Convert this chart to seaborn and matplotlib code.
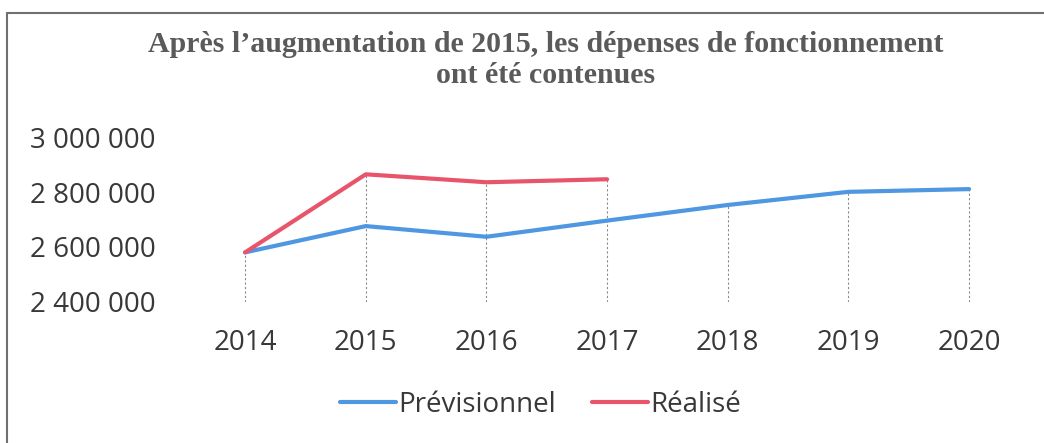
import numpy as np
import pandas as pd
import seaborn as sns
import matplotlib.pyplot as plt
from matplotlib.lines import Line2D

# data
years = ['2014', '2015', '2016', '2017', '2018', '2019', '2020']
previsionnel = [2580000, 2676000, 2637000, 2696000, 2753000, 2801000, 2811000]
realise = [2580000, 2865000, 2836000, 2847000, np.nan, np.nan, np.nan]
series_names = ['Prévisionnel', 'Réalisé']
title = "Après l\u2019augmentation de 2015, les dépenses de fonctionnement\nont été contenues"

sns.set_theme(style='white')
plt.rcParams['font.family'] = ['Open Sans', 'DejaVu Sans']

df = pd.DataFrame({'annee': years * 2,
                   'valeur': previsionnel + realise,
                   'serie': [series_names[0]] * len(years) + [series_names[1]] * len(years)})
df['pos'] = list(range(len(years))) * 2

fig = plt.figure(figsize=(10.44, 4.43), dpi=100)
ax = fig.add_axes([0.177, 0.319, 0.809, 0.371])

# drop lines from the highest point of each year
tops = np.nanmax(np.array([previsionnel, realise], dtype=float), axis=0)
ax.vlines(range(len(years)), 2400000, tops, colors='#8a8a8a', linewidth=0.8,
          linestyles=(0, (2, 2)), zorder=1)

sns.lineplot(data=df.dropna(), x='pos', y='valeur', hue='serie', hue_order=series_names,
             palette=['#4f97e0', '#e8556a'], linewidth=3, ax=ax, legend=False, zorder=2)

# axis
ax.set_xlim(-0.5, len(years) - 0.5)
ax.set_ylim(2400000, 3000000)
ax.set_xticks(range(len(years)))
ax.set_xticklabels(years)
yt = [2400000, 2600000, 2800000, 3000000]
ax.set_yticks(yt)
ax.set_yticklabels(['{:,}'.format(v).replace(',', ' ') for v in yt])
ax.tick_params(axis='both', length=0, labelsize=20, labelcolor='#383838')
ax.tick_params(axis='y', pad=21)
ax.tick_params(axis='x', pad=20)
ax.set_xlabel('')
ax.set_ylabel('')
for s in ax.spines.values():
    s.set_visible(False)

# title
fig.text(0.523, 0.93, title, ha='center', va='top', fontsize=21.5, fontweight='bold',
         family=['Liberation Serif', 'DejaVu Serif'], color='#5a5a5a', linespacing=1.2)

# legend
proxies = [Line2D([0, 1], [0, 1], color='#4f97e0', linewidth=3),
           Line2D([0, 1], [0, 1], color='#e8556a', linewidth=3)]
fig.legend(proxies, series_names, loc='center', bbox_to_anchor=(0.518, 0.086), ncol=2,
           frameon=False, fontsize=20, handlelength=2.0, handletextpad=0.1,
           columnspacing=1.3, labelcolor='#383838')

# chart frame (top and left edges)
fig.add_artist(Line2D([7 / 1044, 1.0], [1 - 13 / 443, 1 - 13 / 443], color='#707070', linewidth=1.5))
fig.add_artist(Line2D([7 / 1044, 7 / 1044], [0.0, 1 - 13 / 443], color='#707070', linewidth=1.5))

fig.savefig('out.png', dpi=100)
